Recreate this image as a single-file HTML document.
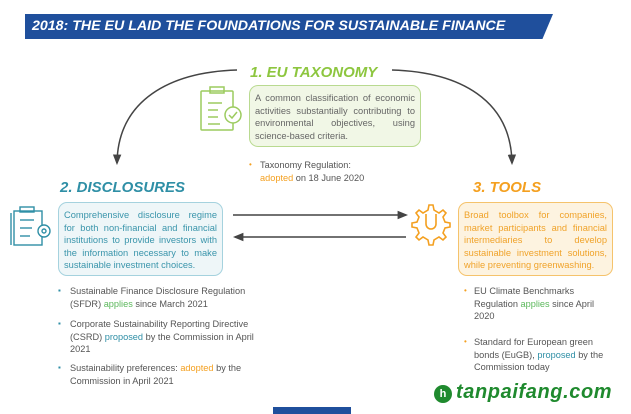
<!DOCTYPE html>
<html><head><meta charset="utf-8"><style>
body{margin:0;width:631px;height:414px;background:#fff;position:relative;overflow:hidden;font-family:"Liberation Sans",sans-serif;}
.a{position:absolute;}
.t{font-size:9.2px;line-height:12.7px;color:#555;}
.box{position:absolute;border-radius:9px;font-size:9.3px;line-height:12.6px;padding:6px 5px;box-sizing:border-box;text-align:justify;}
.h{font-weight:bold;font-style:italic;font-size:15px;position:absolute;}
.b{position:absolute;font-size:8px;}
</style></head><body>
<div class="a" style="left:25px;top:14px;width:528px;height:25px;background:#1f4f9c;clip-path:polygon(0 0,100% 0,98% 100%,0 100%);"></div>
<div class="a" style="left:32px;top:18px;color:#fff;font-weight:bold;font-style:italic;font-size:14.2px;letter-spacing:0px;white-space:nowrap;">2018: THE EU LAID THE FOUNDATIONS FOR SUSTAINABLE FINANCE</div>
<svg class="a" style="left:0;top:0" width="631" height="414">
<defs><marker id="m" viewBox="0 0 10 10" refX="8" refY="5" markerWidth="7" markerHeight="7" orient="auto"><path d="M0,1 L10,5 L0,9 z" fill="#444"/></marker></defs>
<path d="M237,70 C170,72 118,100 117,163" fill="none" stroke="#444" stroke-width="1.5" marker-end="url(#m)"/>
<path d="M392,70 C460,72 511,100 512,163" fill="none" stroke="#444" stroke-width="1.5" marker-end="url(#m)"/>
<line x1="233" y1="215" x2="406" y2="215" stroke="#444" stroke-width="1.5" marker-end="url(#m)"/>
<line x1="406" y1="237" x2="235" y2="237" stroke="#444" stroke-width="1.5" marker-end="url(#m)"/>
<g fill="none" stroke="#9ccb5f" stroke-width="1.5">
<rect x="201" y="91" width="32" height="39" rx="1"/><rect x="210" y="87" width="14" height="6"/>
<line x1="208" y1="103" x2="222" y2="103"/><line x1="208" y1="110" x2="218" y2="110"/><line x1="208" y1="117" x2="218" y2="117"/><line x1="208" y1="124" x2="220" y2="124"/>
<circle cx="233" cy="115" r="8" fill="#fff"/><path d="M229,115 l3,3 l5,-6"/></g>
<g fill="none" stroke="#2f8fa6" stroke-width="1.4">
<rect x="14" y="211" width="28" height="34"/><rect x="20" y="207" width="14" height="5"/>
<line x1="20" y1="220" x2="34" y2="220"/><line x1="20" y1="228" x2="32" y2="228"/><line x1="20" y1="236" x2="30" y2="236"/>
<circle cx="44" cy="231" r="6" fill="#fff"/><circle cx="44" cy="231" r="2"/><line x1="11" y1="213" x2="11" y2="245"/></g>
<g fill="none" stroke="#f4a020" stroke-width="1.6">
<path d="M429,205 l4,0 l1,5 l5,3 l4,-3 l3,3 l-3,4 l2,5 l5,1 l0,4 l-5,1 l-2,5 l3,4 l-3,3 l-4,-3 l-5,3 l-1,5 l-4,0 l-1,-5 l-5,-3 l-4,3 l-3,-3 l3,-4 l-2,-5 l-5,-1 l0,-4 l5,-1 l2,-5 l-3,-4 l3,-3 l4,3 l5,-3 z"/>
<path d="M426,214 l0,10 a5,5 0 0 0 10,0 l0,-10"/></g>
</svg>
<div class="h" style="left:250px;top:64px;color:#8dc63f;">1. EU TAXONOMY</div>
<div class="box" style="left:249px;top:85px;width:172px;height:62px;background:#f1f7e6;border:1.5px solid #b9da90;color:#666;">A common classification of economic activities substantially contributing to environmental objectives, using science-based criteria.</div>
<div class="b" style="left:249px;top:160px;color:#f4a020;">•</div>
<div class="a t" style="left:260px;top:159px;">Taxonomy Regulation:<br><span style="color:#f4a020">adopted</span> on 18 June 2020</div>
<div class="h" style="left:60px;top:179px;color:#2f8fa6;">2. DISCLOSURES</div>
<div class="h" style="left:473px;top:179px;color:#f4a020;">3. TOOLS</div>
<div class="box" style="left:58px;top:202px;width:165px;height:74px;background:#eef6f8;border:1.5px solid #a5d2de;color:#3a95ab;">Comprehensive disclosure regime for both non-financial and financial institutions to provide investors with the information necessary to make sustainable investment choices.</div>
<div class="box" style="left:458px;top:202px;width:155px;height:74px;background:#fdf3e0;border:1.5px solid #f5c36c;color:#f0a32a;">Broad toolbox for companies, market participants and financial intermediaries to develop sustainable investment solutions, while preventing greenwashing.</div>
<div class="b" style="left:58px;top:286px;color:#2f8fa6;">▪</div>
<div class="a t" style="left:70px;top:285px;">Sustainable Finance Disclosure Regulation<br>(SFDR) <span style="color:#5cb85c">applies</span> since March 2021</div>
<div class="b" style="left:58px;top:319px;color:#2f8fa6;">▪</div>
<div class="a t" style="left:70px;top:318px;">Corporate Sustainability Reporting Directive<br>(CSRD) <span style="color:#2f8fa6">proposed</span> by the Commission in April<br>2021</div>
<div class="b" style="left:58px;top:363px;color:#2f8fa6;">▪</div>
<div class="a t" style="left:70px;top:362px;">Sustainability preferences: <span style="color:#f4a020">adopted</span> by the<br>Commission in April 2021</div>
<div class="b" style="left:464px;top:286px;color:#f4a020;">•</div>
<div class="a t" style="left:474px;top:285px;">EU Climate Benchmarks<br>Regulation <span style="color:#5cb85c">applies</span> since April<br>2020</div>
<div class="b" style="left:464px;top:337px;color:#f4a020;">•</div>
<div class="a t" style="left:474px;top:336px;">Standard for European green<br>bonds (EuGB), <span style="color:#2f8fa6">proposed</span> by the<br>Commission today</div>
<div class="a" style="left:434px;top:385px;width:18px;height:18px;border-radius:50%;background:#1f8a2e;color:#fff;font-size:11px;font-weight:bold;text-align:center;line-height:18px;">h</div>
<div class="a" style="left:456px;top:381px;color:#1f8a2e;font-weight:bold;font-style:italic;font-size:20px;letter-spacing:0.6px;">tanpaifang.com</div>
<div class="a" style="left:273px;top:407px;width:78px;height:7px;background:#1f4f9c;"></div>
</body></html>
